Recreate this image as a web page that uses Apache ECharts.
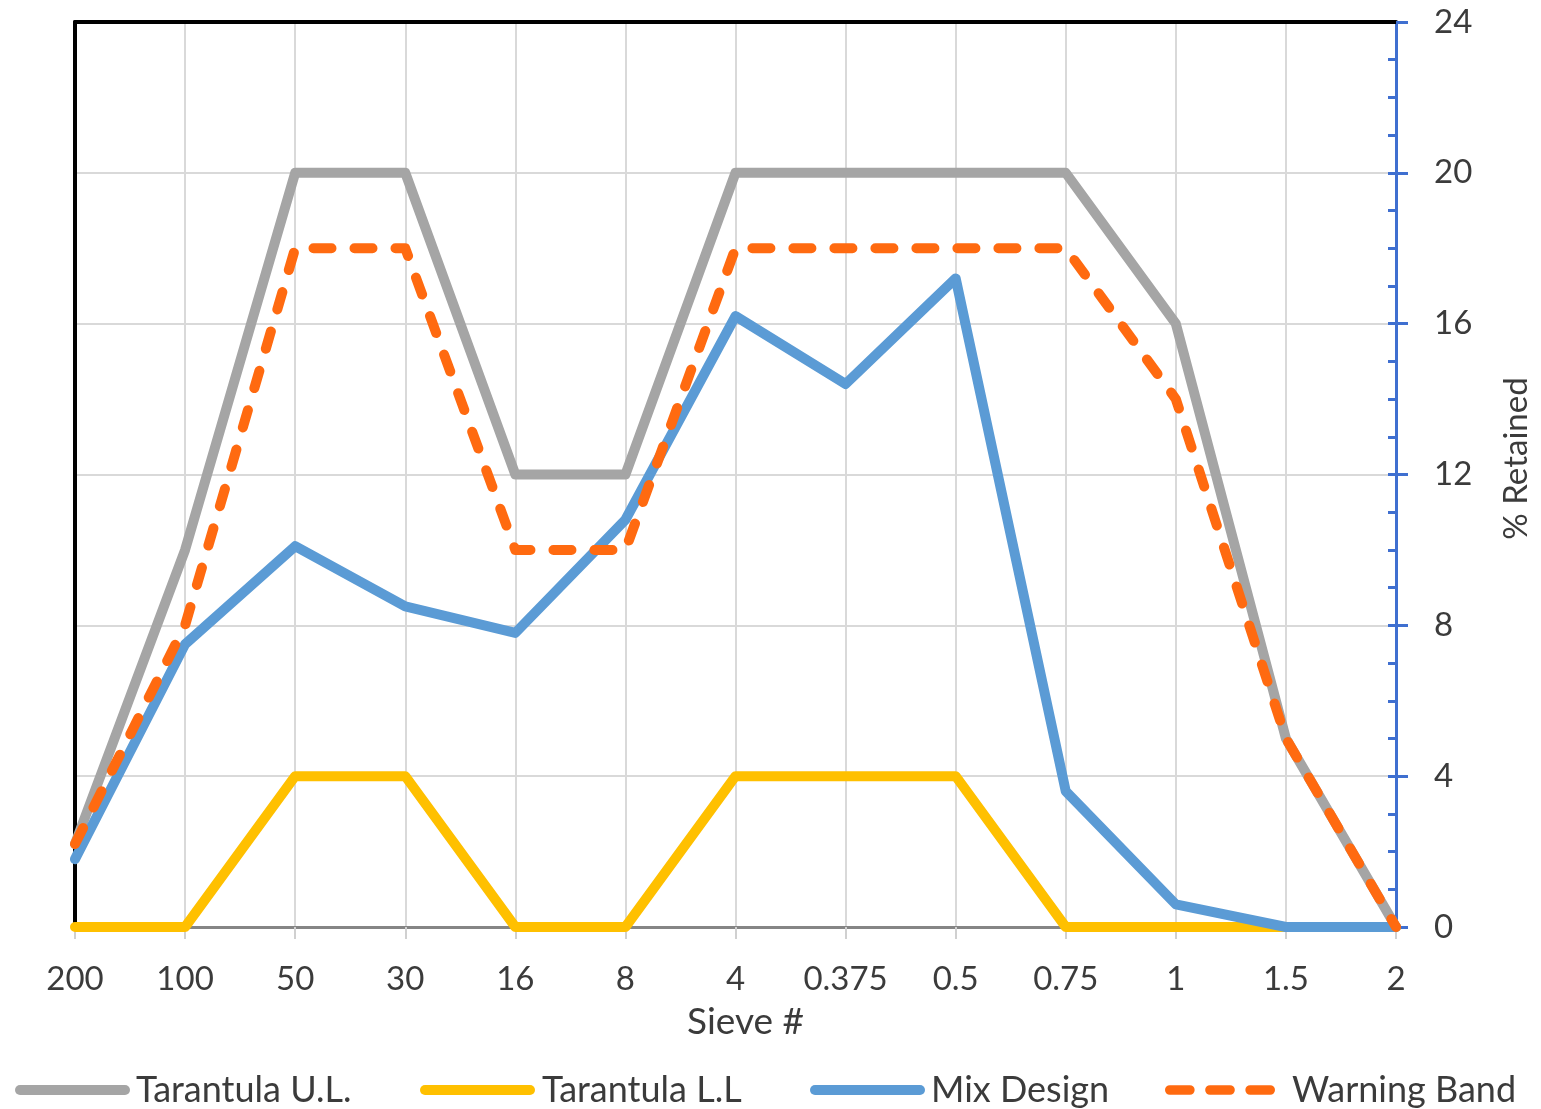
<!DOCTYPE html>
<html>
<head>
<meta charset="utf-8">
<title>Sieve gradation – % Retained</title>
<script src="https://cdn.jsdelivr.net/npm/echarts@6/dist/echarts.min.js"></script>
<style>
  html, body { margin: 0; padding: 0; background: #ffffff; }
  #chart { width: 1541px; height: 1109px; }
</style>
</head>
<body>
<div id="chart"></div>
<script>
// Sieve sizes along the x axis
const sieves = ['200', '100', '50', '30', '16', '8', '4', '0.375', '0.5', '0.75', '1', '1.5', '2'];

// % retained on each sieve
const upperLimit  = [2.2, 10, 20, 20, 12, 12, 20, 20, 20, 20, 16, 5, 0];
const lowerLimit  = [0, 0, 4, 4, 0, 0, 4, 4, 4, 0, 0, 0, 0];
const mixDesign   = [1.8, 7.5, 10.1, 8.5, 7.8, 10.8, 16.2, 14.4, 17.2, 3.6, 0.6, 0, 0];
const warningBand = [2.2, 8, 18, 18, 10, 10, 18, 18, 18, 18, 14, 5, 0];

// Right-hand axis range
const yMin = 0, yMax = 24, yStep = 4;

const FONT = 'Lato';
const TEXT = '#3b3b3b';
const AXIS_BLUE = '#3f6fd0';

// Legend keys: a thick bar for solid series, three bars for the dashed one
const SOLID_KEY = 'path://M5,0H110A5,5 0 0 1 110,10H5A5,5 0 0 1 5,0Z';
const DASHED_KEY = 'path://M5,0H26A5,5 0 0 1 26,10H5A5,5 0 0 1 5,0Z' +
                   'M47,0H68A5,5 0 0 1 68,10H47A5,5 0 0 1 47,0Z' +
                   'M89,0H110A5,5 0 0 1 110,10H89A5,5 0 0 1 89,0Z';

const chart = echarts.init(document.getElementById('chart'), null, { renderer: 'canvas' });

function lineSeries(name, data, color, extra) {
  return Object.assign({
    name: name,
    type: 'line',
    xAxisIndex: 0,
    yAxisIndex: 0,
    data: data,
    showSymbol: false,
    symbol: 'none',
    animation: false,
    lineStyle: { color: color, width: 10, cap: 'round', join: 'round' },
    itemStyle: { color: color }
  }, extra || {});
}

// one legend block per series so each key sits at its own spot
function legendItem(name, icon, left, width, textPad) {
  return {
    left: left,
    top: 1067,
    itemWidth: width,
    itemHeight: 10,
    textStyle: { fontFamily: FONT, fontSize: 36, color: TEXT, padding: [0, 0, 0, textPad] },
    data: [{ name: name, icon: icon }]
  };
}

chart.setOption({
  backgroundColor: '#ffffff',
  animation: false,
  textStyle: { fontFamily: FONT },
  grid: { left: 75, right: 143, top: 22, bottom: 182 },
  legend: [
    legendItem('Tarantula U.L.', SOLID_KEY, 10, 117, 0),
    legendItem('Tarantula L.L', SOLID_KEY, 415, 115, 2),
    legendItem('Mix Design', SOLID_KEY, 805, 117, 0),
    legendItem('Warning Band', DASHED_KEY, 1160, 110, 12)
  ],
  xAxis: [
    {
      type: 'category',
      data: sieves,
      boundaryGap: false,
      name: 'Sieve #',
      nameLocation: 'middle',
      nameGap: 77,
      nameTextStyle: { fontFamily: FONT, fontSize: 37, color: TEXT, padding: [0, 0, 0, 20] },
      axisLine: { show: true, onZero: false, lineStyle: { color: '#858585', width: 3 } },
      axisTick: { show: true, alignWithLabel: true, length: 12, lineStyle: { color: '#d0d0d0', width: 2 } },
      axisLabel: { fontFamily: FONT, fontSize: 33, color: TEXT, margin: 36 },
      splitLine: { show: true, lineStyle: { color: '#d9d9d9', width: 2 } }
    },
    {
      // black frame along the top of the plot
      type: 'category',
      data: sieves,
      boundaryGap: false,
      position: 'top',
      z: 3,
      axisLine: { show: true, onZero: false, lineStyle: { color: '#000000', width: 4 } },
      axisTick: { show: false },
      axisLabel: { show: false },
      splitLine: { show: false }
    }
  ],
  yAxis: [
    {
      type: 'value',
      position: 'right',
      min: yMin, max: yMax, interval: yStep,
      name: '% Retained',
      nameLocation: 'middle',
      nameGap: 104,
      nameRotate: 90,
      nameTextStyle: { fontFamily: FONT, fontSize: 33, color: TEXT, padding: [0, 0, 0, 32] },
      axisLine: { show: true, onZero: false, lineStyle: { color: AXIS_BLUE, width: 3 } },
      axisTick: { show: true, inside: true, length: 8, lineStyle: { color: AXIS_BLUE, width: 3 } },
      minorTick: { show: true, splitNumber: 4, length: 8, lineStyle: { color: AXIS_BLUE, width: 3 } },
      axisLabel: { fontFamily: FONT, fontSize: 33, color: TEXT, margin: 38, align: 'left' },
      splitLine: { show: true, lineStyle: { color: '#d9d9d9', width: 2 } }
    },
    {
      // outward half of the major ticks on the same scale
      type: 'value',
      position: 'right',
      min: yMin, max: yMax, interval: yStep,
      z: 3,
      axisLine: { show: false, onZero: false },
      axisTick: { show: true, inside: false, length: 12, lineStyle: { color: AXIS_BLUE, width: 3 } },
      axisLabel: { show: false },
      splitLine: { show: false }
    },
    {
      // black frame along the left of the plot
      type: 'value',
      position: 'left',
      min: yMin, max: yMax, interval: yStep,
      z: 1,
      axisLine: { show: true, onZero: false, lineStyle: { color: '#000000', width: 4 } },
      axisTick: { show: false },
      axisLabel: { show: false },
      splitLine: { show: false }
    }
  ],
  series: [
    lineSeries('Tarantula U.L.', upperLimit, '#a5a5a5'),
    lineSeries('Tarantula L.L', lowerLimit, '#ffc000'),
    lineSeries('Mix Design', mixDesign, '#5b9bd5'),
    lineSeries('Warning Band', warningBand, '#ff6a10', {
      lineStyle: { color: '#ff6a10', width: 10, type: [18, 23], cap: 'round', join: 'round' }
    })
  ]
});
</script>
</body>
</html>
